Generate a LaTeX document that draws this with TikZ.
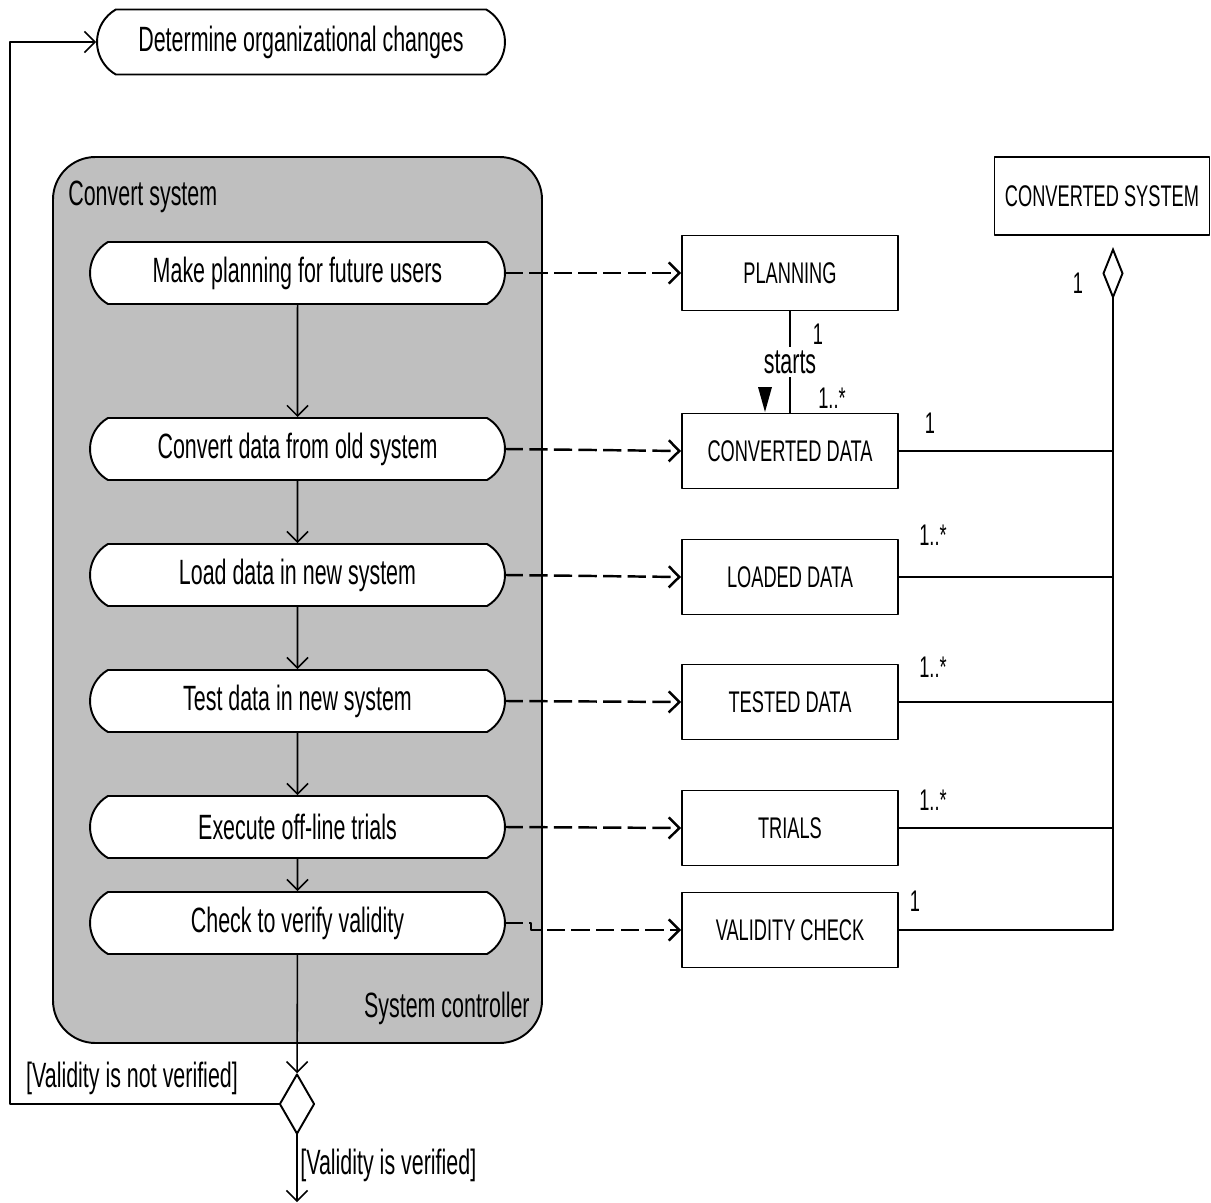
\documentclass[tikz,border=0pt]{standalone}
\usepackage{fontspec}
\setmainfont{Liberation Sans}[FakeStretch=0.61]
\usetikzlibrary{arrows.meta,positioning,shapes.geometric,shapes.misc}

\tikzset{
  activity/.style={rounded rectangle, rounded rectangle arc length=120,
    draw, fill=white, line width=1.1pt, minimum width=8.3cm,
    minimum height=1.24cm, inner sep=0pt,
    font=\fontsize{20pt}{24pt}\selectfont},
  object/.style={rectangle, draw, fill=white, line width=1.1pt,
    minimum width=4.32cm, minimum height=1.5cm, inner sep=0pt,
    font=\fontsize{17pt}{20pt}\selectfont},
  flow/.style={line width=0.9pt, -{Straight Barb[length=6pt,width=12pt]}},
  objflow/.style={flow, line width=1.4pt, dash pattern=on 9pt off 5pt},
  assoc/.style={line width=1.1pt},
  mult/.style={inner sep=0pt, font=\fontsize{17pt}{20pt}\selectfont},
  guard/.style={inner sep=0pt, font=\fontsize{20pt}{24pt}\selectfont}
}

\begin{document}
\begin{tikzpicture}[x=0.02cm, y=-0.02cm, line cap=rect, line join=round]

    \useasboundingbox (0,0) rectangle (1211,1203);

    % ------------------ Layout ------------------
    \def\actX{297.5}
    \def\objX{790}
    \def\aggX{1113}

    % ------------------ Partition ------------------
    \draw[fill=black!25, line width=1.1pt, rounded corners=0.85cm]
    (53,157) rectangle (542,1043);
    \node[anchor=west, guard] (convsys) at (68,197) {Convert system};
    \node[anchor=east, guard] (sysctrl) at (530,1008) {System controller};

    % ------------------ Activities ------------------
    \node[activity, minimum width=8.16cm, minimum height=1.3cm] (orgchg)
    at (301,42) {Determine organizational changes};
    \node[activity] (plan) at (\actX,273) {Make planning for future users};
    \node[activity] (convert) at (\actX,449) {Convert data from old system};
    \node[activity] (load) at (\actX,575) {Load data in new system};
    \node[activity] (test) at (\actX,701) {Test data in new system};
    \node[activity] (trial) at (\actX,827) {Execute off-line trials};
    \node[activity] (check) at (\actX,923) {Check to verify validity};

    \node[diamond, draw, fill=white, line width=1.1pt, inner sep=0pt,
      minimum width=0.7cm, minimum height=1.2cm] (decide) at (297,1104) {};

    % ------------------ Objects ------------------
    \node[object] (planning) at (\objX,273) {PLANNING};
    \node[object] (cdata) at (\objX,451) {CONVERTED DATA};
    \node[object] (ldata) at (\objX,577) {LOADED DATA};
    \node[object] (tdata) at (\objX,702) {TESTED DATA};
    \node[object] (trials) at (\objX,828) {TRIALS};
    \node[object] (vcheck) at (\objX,930) {VALIDITY CHECK};
    \node[object, minimum width=4.3cm, minimum height=1.56cm] (csystem)
    at (1102,196) {CONVERTED SYSTEM};

    % ------------------ Control flow ------------------
    \draw[flow] (plan) -- (convert);
    \draw[flow] (convert) -- (load);
    \draw[flow] (load) -- (test);
    \draw[flow] (test) -- (trial);
    \draw[flow] (trial) -- (check);
    \draw[flow] (check) -- (decide);

    \coordinate (back) at (10,1104);
    \coordinate (done) at (297,1202);
    \draw[flow] (decide.west) -- (back) |- (orgchg.west);
    \draw[flow] (decide.south) -- (done);
    \node[guard] (notok) at (132,1078) {[Validity is not verified]};
    \node[guard, anchor=west] (ok) at (300,1165) {[Validity is verified]};

    % ------------------ Object flow ------------------
    \draw[objflow] (plan.east) -- (planning.west);
    \draw[objflow] (convert.east) -- (cdata.west);
    \draw[objflow] (load.east) -- (ldata.west);
    \draw[objflow] (test.east) -- (tdata.west);
    \draw[objflow] (trial.east) -- (trials.west);
    \draw[objflow] (check.east) -- ++(25,0) |- (vcheck.west);

    % ------------------ Associations ------------------
    \draw[line width=0.9pt] (planning.south) -- node[fill=white, guard,
      inner sep=2pt] (starts) {starts} (cdata.north);
    \fill (758,387) -- (772,387) -- (765,412) -- cycle;
    \node[mult] (m1) at (818,334) {1};
    \node[mult] (m2) at (832,398) {1..*};

    \coordinate (agg) at (\aggX,247);
    \draw[assoc, -{Diamond[open, length=30pt, width=12pt]}]
    (vcheck.east) -| (agg);
    \draw[assoc] (cdata.east) -- (cdata.east -| agg);
    \draw[assoc] (ldata.east) -- (ldata.east -| agg);
    \draw[assoc] (tdata.east) -- (tdata.east -| agg);
    \draw[assoc] (trials.east) -- (trials.east -| agg);

    \node[mult] (m3) at (930,423) {1};
    \node[mult] (m4) at (933,535) {1..*};
    \node[mult] (m5) at (933,667) {1..*};
    \node[mult] (m6) at (933,800) {1..*};
    \node[mult] (m7) at (915,901) {1};
    \node[mult] (m8) at (1078,283) {1};

  \end{tikzpicture}
\end{document}
